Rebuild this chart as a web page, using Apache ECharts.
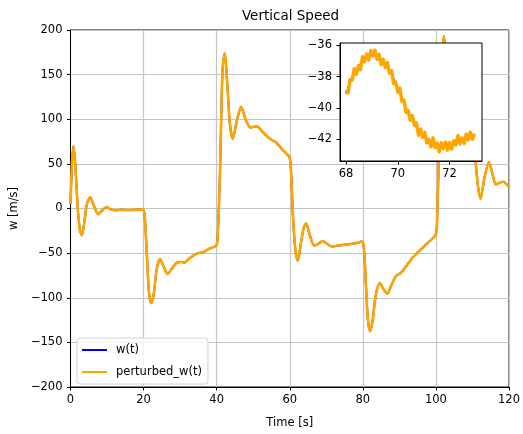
<!DOCTYPE html>
<html><head><meta charset="utf-8">
<script src="https://cdn.jsdelivr.net/npm/echarts@6/dist/echarts.min.js"></script>
<style>html,body{margin:0;padding:0;background:#fff}#c{width:523px;height:434px}</style>
</head><body><div id="c"></div>
<script>
// Main chart data (time in s, vertical speed in m/s)
const time = [0,0.4,0.8,1.3,2.0,2.6,3.1,3.7,4.5,5.4,6.5,7.6,8.7,9.9,11.0,12.2,14,16,18,19.8,
  20.3,21.0,21.5,22.1,22.8,23.6,24.5,25.5,26.6,27.8,29.0,30.3,31.3,32.5,33.5,35,36.3,38,39.9,
  40.3,40.9,41.6,42.2,42.9,43.6,44.4,45.5,46.7,47.9,49.2,50.2,51.1,52.3,53.6,55,56.3,58,59.9,
  60.3,60.9,61.5,62.2,63.0,63.8,64.5,65.5,66.7,68.0,68.9,70.0,71.0,71.8,72.96,74.5,76.3,78,79.7,
  80.3,80.9,81.4,82.0,82.7,83.5,84.6,85.6,86.7,87.8,89.0,90.4,92,93.5,95.3,97.2,99.9,
  100.3,100.8,101.6,102.2,102.9,103.6,104.4,105.5,106.7,107.9,109,110.0,110.8,111.5,112.2,113.3,114.5,115.5,116.4,117.5,118.5,119.3,120];
const w = [5,50,70,50,0,-25,-30,-18,5,12.6,2,-6.5,-2,1.8,-1,-2,-1.5,-1.8,-1.5,-1,
  -8,-60,-95,-106,-95,-68,-56.5,-65,-73.3,-67,-61,-60,-60.5,-56,-53,-50,-49,-45,-41.5,
  -30,40,155,174,140,95,78,98,114,100,90.7,91.5,92,87,81.5,77,74,66,57.4,
  45,-10,-45,-58.5,-40,-22,-16.7,-30,-41.5,-39.1,-36.5,-38.8,-41.8,-42.5,-41.75,-40.8,-40,-39,-37,
  -45,-90,-125,-137.5,-125,-98,-83.5,-90,-95.5,-86,-76,-72.2,-64,-55.6,-48,-40.7,-29.6,
  -15,60,170,193,160,115,98,115,125,110,98,85,55,25,11,35,52,38,27,29,30,27,24];
const perturbedW = w;

// Inset data (zoom on 68-73 s)
const insetTimeSmooth = [68.0,68.2,68.4,68.6,68.8,69.0,69.2,69.4,69.6,69.8,70.0,70.2,70.4,70.6,70.8,71.0,71.2,71.4,71.6,71.8,72.0,72.2,72.4,72.6,72.8,72.96];
const insetW = [-39.1,-38.2,-37.6,-37.1,-36.7,-36.55,-36.65,-36.95,-37.4,-38.0,-38.75,-39.55,-40.3,-40.9,-41.4,-41.8,-42.1,-42.3,-42.45,-42.5,-42.4,-42.2,-42.05,-41.95,-41.85,-41.75];
const insetTime = [68.00,68.08,68.16,68.24,68.32,68.40,68.48,68.56,68.64,68.72,68.80,68.88,68.96,69.04,69.12,69.20,69.28,69.36,69.44,69.52,
  69.60,69.68,69.76,69.84,69.92,70.00,70.08,70.16,70.24,70.32,70.40,70.48,70.56,70.64,70.72,70.80,70.88,70.96,71.04,71.12,
  71.20,71.28,71.36,71.44,71.52,71.60,71.68,71.76,71.84,71.92,72.00,72.08,72.16,72.24,72.32,72.40,72.48,72.56,72.64,72.72,
  72.80,72.88,72.96];
const insetPerturbed = [-38.85,-39.04,-38.18,-38.23,-37.49,-37.85,-37.30,-37.55,-36.72,-37.06,-36.55,-36.94,-36.33,-36.67,-36.31,-36.90,-36.57,-37.24,-36.89,-37.42,
  -37.10,-37.79,-37.63,-38.45,-38.35,-39.00,-38.72,-39.59,-39.50,-40.30,-40.15,-40.79,-40.48,-41.10,-40.95,-41.75,-41.36,-41.87,-41.56,-42.23,
  -42.00,-42.48,-41.91,-42.53,-42.24,-42.80,-42.22,-42.59,-42.18,-42.69,-42.20,-42.62,-42.09,-42.37,-41.76,-42.30,-41.91,-42.27,-41.68,-42.04,
  -41.55,-42.00,-41.65];

// Tick labels
const xTicksMain = [0,20,40,60,80,100,120];
const yTicksMain = [-200,-150,-100,-50,0,50,100,150,200];
const xTicksInset = [68,70,72];
const yTicksInset = [-42,-40,-38,-36];

const FONT = 'DejaVu Sans';
const pairs = (xs, ys) => xs.map((x, i) => [x, ys[i]]);
const minus = v => String(v).replace('-', '\u2212');

const chart = echarts.init(document.getElementById('c'), null, {renderer: 'canvas'});
chart.setOption({
  animation: false,
  backgroundColor: '#fff',
  title: {
    text: 'Vertical Speed', left: 290.5, top: 9, textAlign: 'center', padding: 0,
    textStyle: {fontFamily: FONT, fontSize: 13.5, fontWeight: 'normal', color: '#000'}
  },
  legend: {
    left: 77, top: 338, orient: 'vertical', padding: [5, 6, 5, 5],
    icon: 'rect', itemWidth: 25, itemHeight: 2, itemGap: 8,
    backgroundColor: 'rgba(255,255,255,0.8)', borderColor: '#d4d4d4', borderWidth: 1, borderRadius: 3,
    textStyle: {fontFamily: FONT, fontSize: 11.5, color: '#000', lineHeight: 14, padding: [0, 0, 0, 4]},
    data: ['w(t)', 'perturbed_w(t)']
  },
  grid: [
    {left: 70, top: 30, width: 441, height: 360, show: true, borderColor: '#000', borderWidth: 1, backgroundColor: 'transparent', containLabel: false},
    {left: 340, top: 43, width: 142, height: 118, show: true, borderColor: '#000', borderWidth: 1, backgroundColor: '#fff', z: 10, containLabel: false}
  ],
  xAxis: [
    {type: 'value', gridIndex: 0, min: 0, max: 120, interval: 20,
     name: 'Time [s]', nameLocation: 'middle', nameGap: 30,
     nameTextStyle: {fontFamily: FONT, fontSize: 11.5, color: '#000'},
     axisLine: {show: true, onZero: false, lineStyle: {color: '#000', width: 1}},
     axisTick: {show: true, inside: false, length: 3.5, lineStyle: {color: '#000'}},
     axisLabel: {margin: 7, fontFamily: FONT, fontSize: 11.5, color: '#000', formatter: minus},
     splitLine: {show: true, lineStyle: {color: '#c4c4c4', width: 1.2}}},
    {type: 'value', gridIndex: 1, min: 67.77, max: 73.25, z: 11,
     axisLine: {show: true, onZero: false, lineStyle: {color: '#000', width: 1}},
     axisTick: {show: true, inside: false, length: 3.5, lineStyle: {color: '#000'}, customValues: xTicksInset},
     axisLabel: {margin: 7, fontFamily: FONT, fontSize: 11.5, color: '#000', customValues: xTicksInset, formatter: minus},
     splitLine: {show: false}}
  ],
  yAxis: [
    {type: 'value', gridIndex: 0, min: -200, max: 200, interval: 50,
     name: 'w [m/s]', nameLocation: 'middle', nameGap: 46, nameRotate: 90,
     nameTextStyle: {fontFamily: FONT, fontSize: 11.5, color: '#000'},
     axisLine: {show: true, onZero: false, lineStyle: {color: '#000', width: 1}},
     axisTick: {show: true, inside: false, length: 3.5, lineStyle: {color: '#000'}},
     axisLabel: {margin: 8, fontFamily: FONT, fontSize: 11.5, color: '#000', formatter: minus},
     splitLine: {show: true, lineStyle: {color: '#c4c4c4', width: 1.2}}},
    {type: 'value', gridIndex: 1, min: -43.39, max: -35.85, z: 11,
     axisLine: {show: true, onZero: false, lineStyle: {color: '#000', width: 1}},
     axisTick: {show: true, inside: false, length: 3.5, lineStyle: {color: '#000'}, customValues: yTicksInset},
     axisLabel: {margin: 8, fontFamily: FONT, fontSize: 11.5, color: '#000', customValues: yTicksInset, formatter: minus},
     splitLine: {show: false}}
  ],
  series: [
    {name: 'w(t)', type: 'line', xAxisIndex: 0, yAxisIndex: 0, data: pairs(time, w),
     symbol: 'none', smooth: 0.25, lineStyle: {color: '#0000ff', width: 2}, itemStyle: {color: '#0000ff'}, z: 2},
    {name: 'perturbed_w(t)', type: 'line', xAxisIndex: 0, yAxisIndex: 0, data: pairs(time, perturbedW),
     symbol: 'none', smooth: 0.25, lineStyle: {color: '#ffa500', width: 2.6}, itemStyle: {color: '#ffa500'}, z: 3},
    {name: 'w(t)', type: 'line', xAxisIndex: 1, yAxisIndex: 1, data: pairs(insetTimeSmooth, insetW),
     symbol: 'none', smooth: 0.3, lineStyle: {color: '#0000ff', width: 1.5}, itemStyle: {color: '#0000ff'}, z: 12},
    {name: 'perturbed_w(t)', type: 'line', xAxisIndex: 1, yAxisIndex: 1, data: pairs(insetTime, insetPerturbed),
     symbol: 'none', lineStyle: {color: '#ffa500', width: 3.4, join: 'round'}, itemStyle: {color: '#ffa500'}, z: 13}
  ]
});
</script></body></html>
